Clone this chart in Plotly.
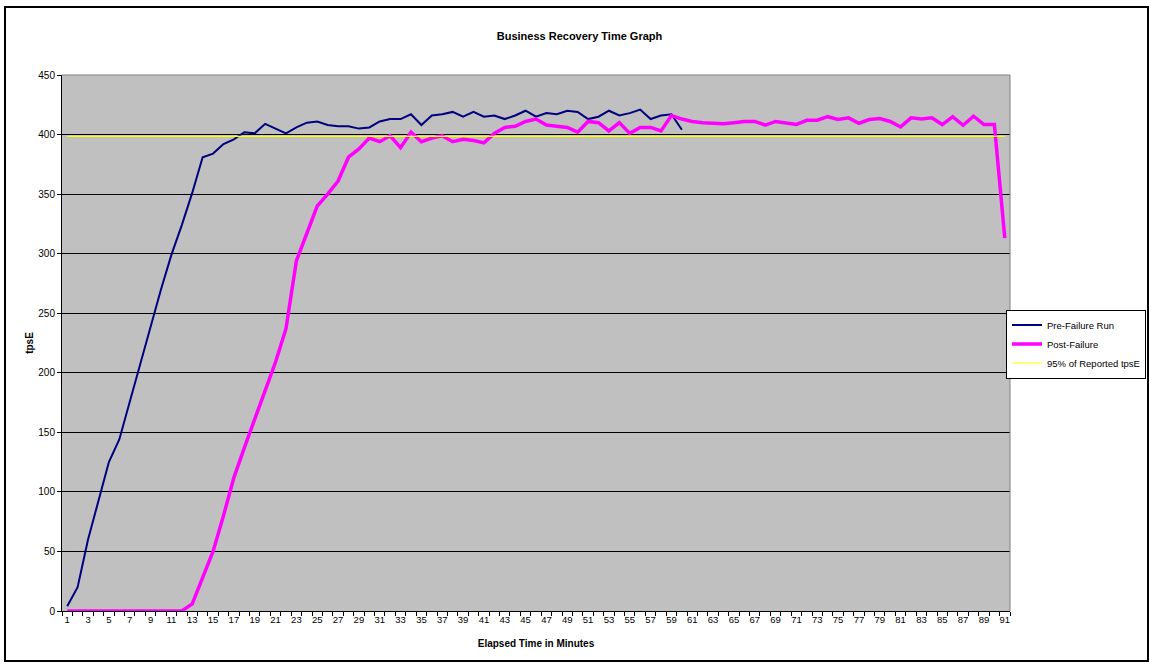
import plotly.graph_objects as go

minutes = list(range(1, 92))

pre_failure = [4, 20, 60, 92, 125, 144, 176, 207, 240, 270,
               299, 324, 351, 381, 384, 392, 396, 402, 401, 409,
               405, 401, 406, 410, 411, 408, 407, 407, 405, 406,
               411, 413, 413, 417, 408, 416, 417, 419, 415, 419,
               415, 416, 413, 416, 420, 415, 418, 417, 420, 419,
               413, 415, 420, 416, 418, 421, 413, 416, 417, 404]

post_failure = [0, 0, 0, 0, 0, 0, 0, 0, 0, 0,
                0, 0, 6, 28, 50, 80, 112, 137, 162, 185,
                209, 237, 294, 316, 340, 350, 361, 381, 388, 397,
                394, 399, 389, 402, 394, 397, 399, 394, 396, 395,
                393, 401, 406, 407, 411, 413, 408, 407, 406, 402,
                411, 410, 403, 410, 401, 406, 406, 403, 416, 413,
                411, 410, 409.5, 409, 410, 411, 411, 408, 411, 410,
                408.5, 412, 412, 415, 412.6, 414, 409.5, 412.6, 413.4, 411,
                406.4, 414, 413, 414, 408.4, 415, 407.8, 415.4, 408.4, 408.4,
                313]

THRESHOLD = 398.5
threshold = [THRESHOLD] * len(minutes)

y_ticks = [0, 50, 100, 150, 200, 250, 300, 350, 400, 450]
x_labels = [str(m) for m in minutes[::2]]

FONT = "Arial, Liberation Sans, sans-serif"

fig = go.Figure()
fig.add_trace(go.Scatter(x=minutes[:len(pre_failure)], y=pre_failure, mode="lines",
                         name="Pre-Failure Run", line=dict(color="#000080", width=2)))
fig.add_trace(go.Scatter(x=minutes, y=post_failure, mode="lines",
                         name="Post-Failure", line=dict(color="#FF00FF", width=3.5)))
fig.add_trace(go.Scatter(x=minutes, y=threshold, mode="lines",
                         name="95% of Reported tpsE", line=dict(color="#FFFF00", width=1.2)))

# margins -> plot area x 62..1010, y 75..611
L, R, T, B = 62, 139, 75, 53
W, H = 1149, 664
pw, ph = W - L - R, H - T - B

def px_x(p):
    return (p - L) / pw

def px_y(p):
    return (H - B - p) / ph

fig.update_layout(
    width=W, height=H,
    margin=dict(l=L, r=R, t=T, b=B, autoexpand=False),
    paper_bgcolor="white",
    plot_bgcolor="#C0C0C0",
    font=dict(family=FONT, size=10, color="black"),
    title=dict(text="<b>Business Recovery Time Graph</b>", x=579.5 / W, xref="container",
               xanchor="center", y=1 - 36 / H, yref="container", yanchor="middle",
               font=dict(size=11, family=FONT)),
    showlegend=True,
    legend=dict(x=px_x(1146), y=px_y(344), xanchor="right", yanchor="middle",
                bordercolor="black", borderwidth=1, bgcolor="white",
                font=dict(size=9.5, family=FONT), tracegroupgap=0,
                itemwidth=30),
    xaxis=dict(
        range=[0.5, 91.5], tickmode="array", tickvals=minutes[::2], ticktext=x_labels,
        ticks="", showgrid=False, zeroline=False,
        showline=True, linecolor="black", linewidth=1,
        tickfont=dict(size=9.5, family=FONT),
        minor=dict(tickmode="linear", tick0=0.5, dtick=1, ticks="outside",
                   ticklen=4, tickcolor="black", showgrid=False),
        title=dict(text="<b>Elapsed Time in Minutes</b>", standoff=15,
                   font=dict(size=10, family=FONT)),
    ),
    yaxis=dict(
        range=[0, 450], tickmode="array", tickvals=y_ticks,
        ticks="outside", ticklen=4, tickcolor="black",
        showgrid=True, gridcolor="black", gridwidth=1, zeroline=False,
        showline=True, linecolor="black", linewidth=1,
        tickfont=dict(size=10, family=FONT),
        title=dict(text="<b>tpsE</b>", standoff=2, font=dict(size=10, family=FONT)),
    ),
    shapes=[
        dict(type="line", xref="paper", yref="paper", x0=0, x1=1, y0=1, y1=1,
             line=dict(color="#808080", width=1)),
        dict(type="line", xref="paper", yref="paper", x0=1, x1=1, y0=0, y1=1,
             line=dict(color="#808080", width=1)),
        dict(type="rect", xref="paper", yref="paper",
             x0=px_x(5), x1=px_x(1148), y0=px_y(661), y1=px_y(7),
             line=dict(color="black", width=2), fillcolor="rgba(0,0,0,0)"),
    ],
)

fig.write_html(
    "out.html",
    config={"displayModeBar": False},
    post_script="document.body.style.margin='0';document.body.style.padding='0';",
)
